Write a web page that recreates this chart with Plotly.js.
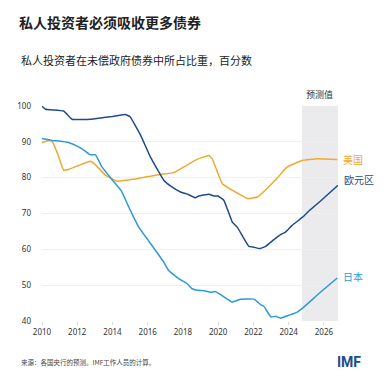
<!DOCTYPE html>
<html>
<head>
<meta charset="utf-8">
<script src="https://cdn.plot.ly/plotly-3.0.1.min.js"></script>
<style>html,body{margin:0;padding:0;background:#fff;}#chart{width:384px;height:384px;}</style>
</head>
<body>
<div id="chart"></div>
<script>
// ---- data (decimal years, percent) ----
const usX = [2010.0, 2010.38, 2010.57, 2010.9, 2011.23, 2011.5, 2012.08, 2012.74, 2013.0, 2013.6, 2014.26, 2014.8, 2015.3, 2015.87, 2016.15, 2016.72, 2017.48, 2018.05, 2018.8, 2019.47, 2019.66, 2020.23, 2020.6, 2021.27, 2021.65, 2022.22, 2022.78, 2023.35, 2023.92, 2024.77, 2025.62, 2026.76];
const usY = [89.8, 90.4, 90.2, 86.5, 82.1, 82.3, 83.4, 84.6, 83.8, 80.7, 79.0, 79.3, 79.6, 80.2, 80.4, 80.9, 81.4, 83.0, 85.1, 86.2, 85.3, 78.3, 77.1, 75.2, 74.2, 74.6, 77.0, 79.9, 83.0, 84.8, 85.3, 85.1];

const euX = [2010.0, 2010.2, 2011.23, 2011.7, 2012.74, 2013.5, 2014.0, 2014.5, 2014.73, 2015.0, 2015.58, 2016.15, 2016.91, 2017.29, 2017.86, 2018.3, 2018.71, 2018.9, 2019.47, 2019.75, 2019.98, 2020.32, 2020.8, 2021.08, 2021.74, 2022.03, 2022.36, 2022.69, 2023.16, 2023.54, 2023.82, 2024.2, 2024.77, 2025.24, 2025.81, 2026.8];
const euY = [99.9, 99.1, 98.6, 96.3, 96.3, 96.8, 97.1, 97.5, 97.6, 97.0, 92.0, 85.8, 79.3, 77.7, 76.0, 75.3, 74.4, 74.9, 75.4, 74.9, 74.9, 73.7, 67.6, 66.2, 60.8, 60.6, 60.2, 60.8, 62.7, 64.1, 64.8, 66.7, 68.9, 71.1, 73.5, 77.9];

const jpX = [2010.0, 2010.57, 2010.94, 2011.5, 2012.08, 2012.46, 2012.74, 2013.03, 2013.4, 2014.0, 2014.5, 2015.0, 2015.49, 2016.0, 2016.44, 2016.9, 2017.19, 2017.76, 2018.24, 2018.52, 2018.81, 2019.28, 2019.56, 2019.85, 2020.13, 2020.8, 2021.27, 2022.03, 2022.4, 2022.59, 2023.0, 2023.26, 2023.54, 2024.01, 2024.49, 2024.77, 2025.75, 2026.76];
const jpY = [90.9, 90.4, 90.2, 89.8, 88.6, 87.4, 86.4, 86.4, 83.0, 79.3, 76.3, 71.0, 66.2, 62.7, 59.7, 56.5, 54.1, 51.8, 50.4, 49.0, 48.6, 48.4, 48.0, 48.2, 47.4, 45.3, 46.1, 46.1, 44.6, 44.1, 41.1, 41.3, 40.8, 41.6, 42.5, 43.5, 47.8, 52.0];

const seriesNames = ['美国', '欧元区', '日本'];
const seriesColors = ['#F0A830', '#1C4C8E', '#2B9AD8'];
const forecastStart = 2024.75;
const xEnd = 2026.8;
const xTickVals = [2010, 2012, 2014, 2016, 2018, 2020, 2022, 2024, 2026];
const yTickVals = [40, 50, 60, 70, 80, 90, 100];
const labelY = [85.1, 79.5, 52.3];

const titleText = '私人投资者必须吸收更多债券';
const subtitleText = '私人投资者在未偿政府债券中所占比重，百分数';
const forecastText = '预测值';
const sourceText = '来源：各国央行的预测。IMF工作人员的计算。';
const logoText = 'IMF';

// ---- layout geometry ----
const W = 384, H = 384;
const ml = 41.7, mr = 46.3, mt = 105.7, mb = 63.3;
const pw = W - ml - mr, ph = H - mt - mb;
const px2x = p => (p - ml) / pw;
const py2y = p => 1 - (p - mt) / ph;

const CJK = '"Noto Sans CJK SC", "Noto Sans", sans-serif';

const xs = [usX, euX, jpX], ys = [usY, euY, jpY];
const traces = xs.map((x, i) => ({
  x: x, y: ys[i], type: 'scatter', mode: 'lines', name: seriesNames[i],
  line: {color: seriesColors[i], width: 1.5, shape: 'spline', smoothing: 0.3},
  hoverinfo: 'skip'
}));

const annotations = [];
seriesNames.forEach((n, i) => {
  const x = xs[i];
  annotations.push({
    x: x[x.length - 1], y: labelY[i], xref: 'x', yref: 'y', text: n,
    showarrow: false, xanchor: 'left', yanchor: 'middle', xshift: 4,
    font: {family: CJK, size: 10, color: seriesColors[i]}
  });
});
annotations.push({
  x: (forecastStart + xEnd) / 2, y: 1, xref: 'x', yref: 'paper', text: forecastText,
  showarrow: false, xanchor: 'center', yanchor: 'bottom', yshift: 3,
  font: {family: CJK, size: 9, color: '#333'}
});
annotations.push({
  x: px2x(19), y: py2y(60), xref: 'paper', yref: 'paper', text: subtitleText,
  showarrow: false, xanchor: 'left', yanchor: 'middle',
  font: {family: CJK, size: 11, color: '#222'}
});
annotations.push({
  x: px2x(19), y: py2y(362), xref: 'paper', yref: 'paper', text: sourceText,
  showarrow: false, xanchor: 'left', yanchor: 'middle',
  font: {family: CJK, size: 6.5, color: '#444'}
});
annotations.push({
  x: px2x(349), y: py2y(362), xref: 'paper', yref: 'paper', text: '<b>' + logoText + '</b>',
  showarrow: false, xanchor: 'center', yanchor: 'middle',
  font: {family: 'Roboto, "Liberation Sans", sans-serif', size: 14, color: '#1C4C8E'}
});

const layout = {
  width: W, height: H,
  margin: {l: ml, r: mr, t: mt, b: mb, pad: 0},
  paper_bgcolor: '#fff', plot_bgcolor: 'rgba(0,0,0,0)',
  showlegend: false,
  title: {
    text: '<b>' + titleText + '</b>', xref: 'container', yref: 'container',
    x: 19 / W, xanchor: 'left', y: 1 - 22.7 / H, yanchor: 'middle',
    font: {family: CJK, size: 14, color: '#222'}
  },
  xaxis: {
    range: [2010, xEnd], tickvals: xTickVals, ticktext: xTickVals.map(String),
    showgrid: false, zeroline: false, showline: false,
    ticks: 'outside', ticklen: 3, tickcolor: '#dddddd', tickwidth: 1,
    tickfont: {family: '"Noto Sans", sans-serif', size: 8, color: '#333'},
    fixedrange: true
  },
  yaxis: {
    range: [40, 100], tickvals: yTickVals, ticktext: yTickVals.map(String),
    showgrid: true, gridcolor: '#efefef', gridwidth: 1, zeroline: false, showline: false,
    ticks: '', ticklabelstandoff: 10,
    tickfont: {family: '"Noto Sans", sans-serif', size: 8, color: '#333'},
    fixedrange: true
  },
  shapes: [{
    type: 'rect', xref: 'x', yref: 'y', x0: forecastStart, x1: xEnd, y0: 40, y1: 100,
    fillcolor: '#ebebee', line: {width: 0}, layer: 'below'
  }],
  annotations: annotations
};

Plotly.newPlot('chart', traces, layout, {displayModeBar: false, staticPlot: true});
</script>
</body>
</html>
